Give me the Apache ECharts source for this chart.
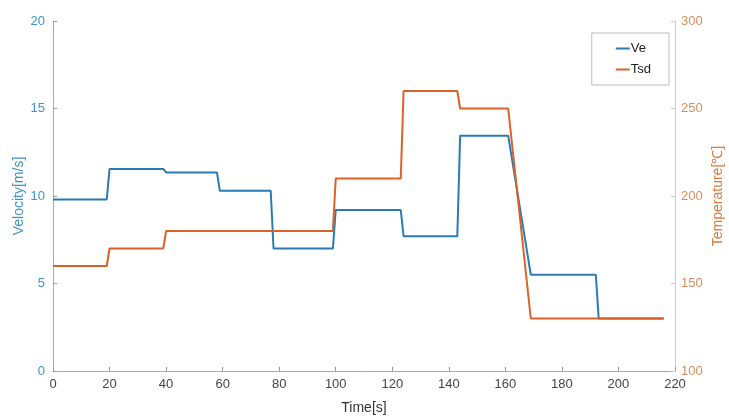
<!DOCTYPE html>
<html>
<head>
<meta charset="utf-8">
<script src="https://cdn.jsdelivr.net/npm/echarts@6/dist/echarts.min.js"></script>
<style>
  html, body { margin: 0; padding: 0; background: #fff; }
  #chart { width: 729px; height: 417px; }
</style>
</head>
<body>
<div id="chart"></div>
<script>
// velocity (left axis)
const veTime = [0, 19, 20, 39, 40, 58, 59, 77, 78, 99, 100, 123, 124, 143, 144, 161, 169, 192, 193, 216];
const veValues = [9.8, 9.8, 11.55, 11.55, 11.35, 11.35, 10.3, 10.3, 7.0, 7.0, 9.2, 9.2, 7.7, 7.7, 13.45, 13.45, 5.5, 5.5, 3.0, 3.0];
// temperature (right axis)
const tsdTime = [0, 19, 20, 39, 40, 99, 100, 123, 124, 143, 144, 161, 169, 216];
const tsdValues = [160, 160, 170, 170, 180, 180, 210, 210, 260, 260, 250, 250, 130, 130];

const blue = '#2a7bb5';
const orange = '#d9622a';
const font = 'Liberation Sans, Arial, sans-serif';

const chart = echarts.init(document.getElementById('chart'));

function pairs(xs, ys) {
  return xs.map((x, i) => [x, ys[i]]);
}

chart.setOption({
  animation: false,
  textStyle: { fontFamily: font },
  grid: { left: 53, right: 54, top: 21, bottom: 46, outerBoundsMode: 'none', containLabel: false },
  legend: {
    right: 60, top: 33,
    orient: 'vertical',
    itemWidth: 14, itemHeight: 2, itemGap: 8,
    padding: [9, 18, 9, 24],
    borderColor: '#bbbbbb', borderWidth: 1,
    textStyle: { fontSize: 13, color: '#222', fontFamily: font, padding: [0, 0, 0, -4] },
    icon: 'rect',
    data: ['Ve', 'Tsd']
  },
  xAxis: {
    type: 'value',
    min: 0, max: 220, interval: 20,
    name: 'Time[s]',
    nameLocation: 'middle',
    nameGap: 30,
    nameTextStyle: { fontSize: 14, color: '#333' },
    axisLine: { lineStyle: { color: '#aaaaaa' } },
    axisTick: { inside: true, length: 4, lineStyle: { color: '#999' } },
    axisLabel: { fontSize: 13, color: '#444', margin: 7 },
    splitLine: { show: false }
  },
  yAxis: [
    {
      type: 'value',
      min: 0, max: 20, interval: 5,
      name: 'Velocity[m/s]',
      nameLocation: 'middle',
      nameGap: 27,
      nameMoveOverlap: false,
      nameTextStyle: { fontSize: 14, color: '#3c94c4' },
      axisLine: { show: true, lineStyle: { color: '#aaaaaa' } },
      axisTick: { show: true, inside: true, length: 4, lineStyle: { color: '#999' } },
      axisLabel: { fontSize: 13, color: '#3c94c4', margin: 8 },
      splitLine: { show: false }
    },
    {
      type: 'value',
      min: 100, max: 300, interval: 50,
      name: 'Temperature[℃]',
      nameLocation: 'middle',
      nameGap: 36,
      nameMoveOverlap: false,
      nameRotate: 90,
      nameTextStyle: { fontSize: 14, color: '#e07a3c' },
      position: 'right',
      axisLine: { show: true, lineStyle: { color: '#d8c8b8' } },
      axisTick: { show: true, inside: true, length: 4, lineStyle: { color: '#ccc' } },
      axisLabel: { fontSize: 13, color: '#d98c5a', margin: 6 },
      splitLine: { show: false }
    }
  ],
  series: [
    {
      name: 'Ve',
      type: 'line',
      yAxisIndex: 0,
      data: pairs(veTime, veValues),
      showSymbol: false,
      lineStyle: { color: blue, width: 2 },
      itemStyle: { color: blue }
    },
    {
      name: 'Tsd',
      type: 'line',
      yAxisIndex: 1,
      data: pairs(tsdTime, tsdValues),
      showSymbol: false,
      lineStyle: { color: orange, width: 2 },
      itemStyle: { color: orange }
    }
  ]
});
</script>
</body>
</html>
